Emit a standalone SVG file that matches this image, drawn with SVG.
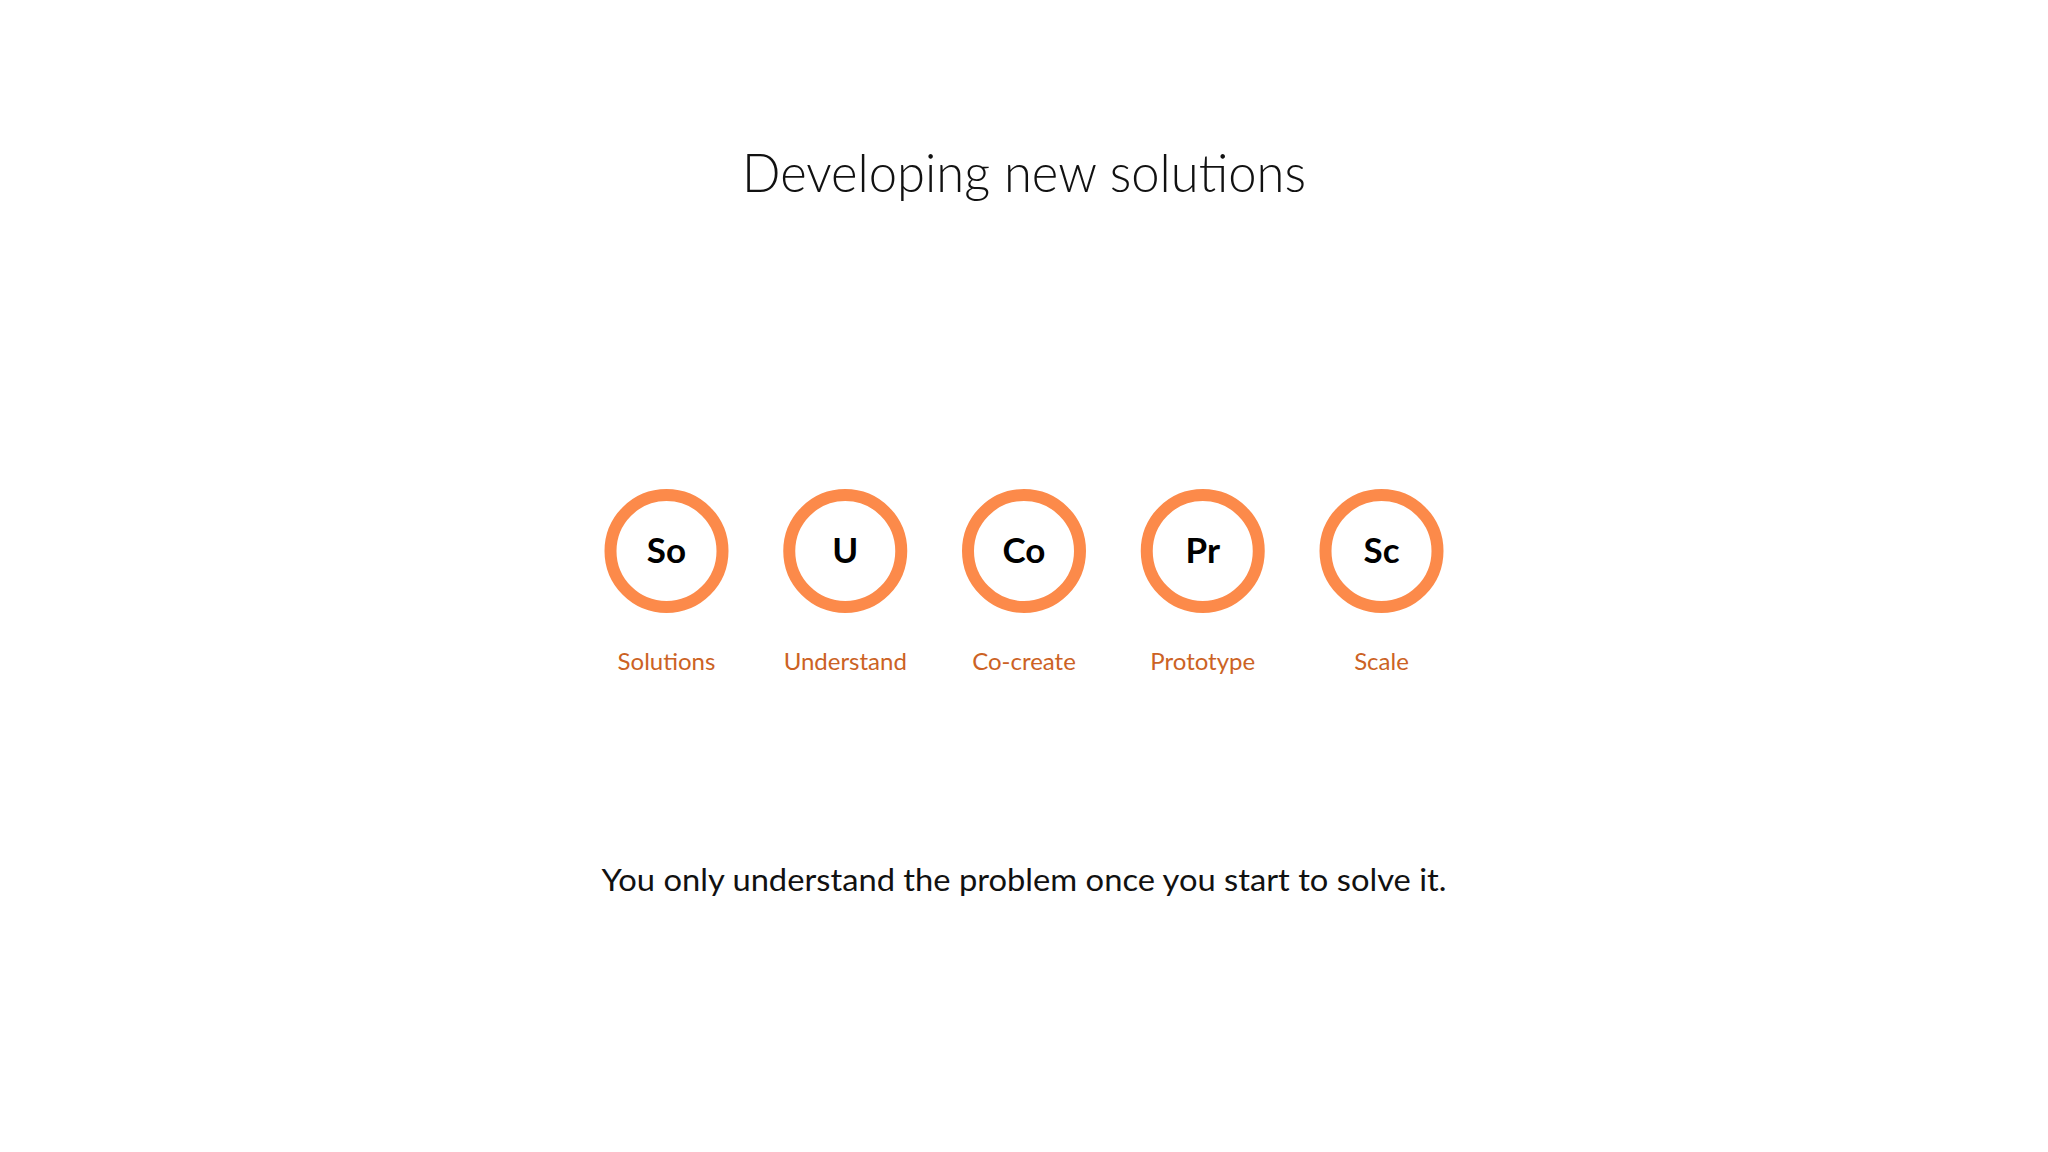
<svg xmlns="http://www.w3.org/2000/svg" width="2048" height="1152" viewBox="0 0 2048 1152">
<style>
.ring{fill:#ffffff;stroke:#fc8a4a;stroke-width:12}
.abbr{font-family:Lato,"Open Sans","Liberation Sans",sans-serif;font-weight:700;font-size:35px;fill:#000;text-anchor:middle}
.lbl{font-family:Lato,"Open Sans","Liberation Sans",sans-serif;font-size:24px;fill:#cc6224;text-anchor:middle}
.title{font-family:Lato,"Open Sans","Liberation Sans",sans-serif;font-weight:300;font-size:53px;fill:#111;text-anchor:middle}
.sub{font-family:Lato,"Open Sans","Liberation Sans",sans-serif;font-size:31px;fill:#111;text-anchor:middle}
</style>
<rect width="2048" height="1152" fill="#ffffff"/>
<text class="title" x="1024" y="192" textLength="564" lengthAdjust="spacingAndGlyphs">Developing new solutions</text>
<g id="node-so"><circle class="ring" cx="666.5" cy="551" r="56"/><text class="abbr" x="666.5" y="563">So</text><text class="lbl" x="666.5" y="670">Solutions</text></g>
<g id="node-u"><circle class="ring" cx="845.25" cy="551" r="56"/><text class="abbr" x="845.25" y="563">U</text><text class="lbl" x="845.25" y="670">Understand</text></g>
<g id="node-co"><circle class="ring" cx="1024" cy="551" r="56"/><text class="abbr" x="1024" y="563">Co</text><text class="lbl" x="1024" y="670">Co-create</text></g>
<g id="node-pr"><circle class="ring" cx="1202.75" cy="551" r="56"/><text class="abbr" x="1202.75" y="563">Pr</text><text class="lbl" x="1202.75" y="670">Prototype</text></g>
<g id="node-sc"><circle class="ring" cx="1381.5" cy="551" r="56"/><text class="abbr" x="1381.5" y="563">Sc</text><text class="lbl" x="1381.5" y="670">Scale</text></g>
<g id="connectors"></g>
<text class="sub" x="1024" y="891" textLength="845" lengthAdjust="spacingAndGlyphs">You only understand the problem once you start to solve it.</text>
</svg>
